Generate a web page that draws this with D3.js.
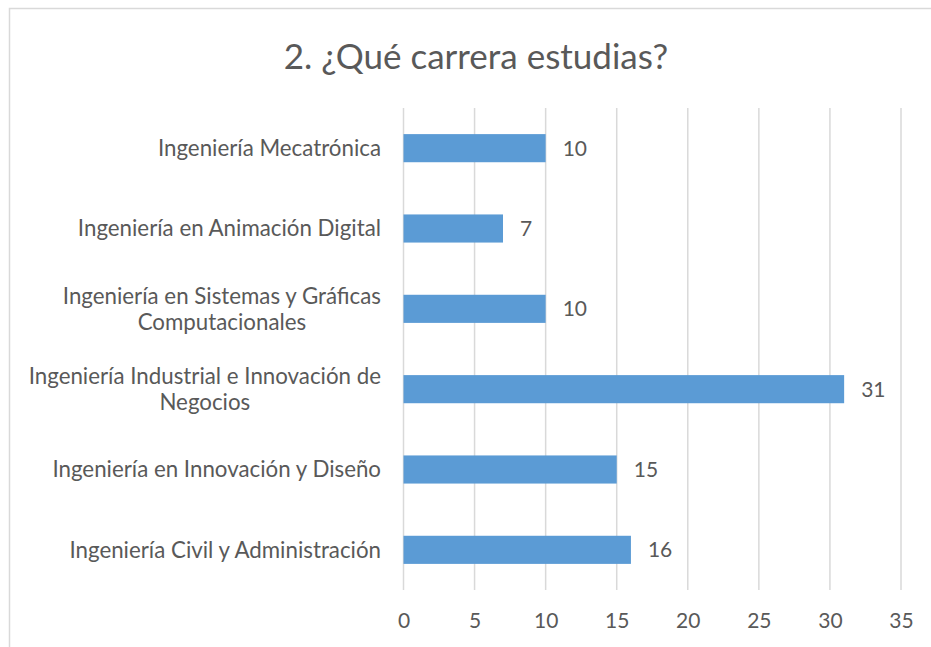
<!DOCTYPE html>
<html>
<head>
<meta charset="utf-8">
<script src="https://cdn.jsdelivr.net/npm/d3@7"></script>
<style>
  body { margin: 0; background: #fff; }
  svg { display: block; font-family: Lato, "Open Sans", sans-serif; }
</style>
</head>
<body>
<div id="chart"></div>
<script>
// chart data, bottom to top as in the picture
var categories = [
  "Ingeniería Civil y Administración",
  "Ingeniería en Innovación y Diseño",
  "Ingeniería Industrial e Innovación de\nNegocios",
  "Ingeniería en Sistemas y Gráficas\nComputacionales",
  "Ingeniería en Animación Digital",
  "Ingeniería Mecatrónica"
];
var values = [16, 15, 31, 10, 7, 10];
var tickValues = [0, 5, 10, 15, 20, 25, 30, 35];

var width = 931, height = 647;
var plot = { left: 403.5, right: 901, top: 108, bottom: 590 };
var textColor = "#595959";

var svg = d3.select("#chart").append("svg")
  .attr("width", width)
  .attr("height", height);

// outer chart frame (runs past the right and bottom edge)
svg.append("rect")
  .attr("x", 9.5).attr("y", 8.5)
  .attr("width", 960).attr("height", 700)
  .attr("fill", "none")
  .attr("stroke", "#d9d9d9")
  .attr("stroke-width", 1.5);

svg.append("text")
  .attr("x", 476).attr("y", 69)
  .attr("text-anchor", "middle")
  .attr("font-size", 35)
  .attr("fill", textColor)
  .text("2. ¿Qué carrera estudias?");

var x = d3.scaleLinear().domain([0, 35]).range([plot.left, plot.right]);
var y = d3.scaleBand()
  .domain(categories.slice().reverse())
  .range([plot.top, plot.bottom])
  .paddingInner(0.65)
  .paddingOuter(0.325);

// gridlines
svg.append("g")
  .selectAll("line")
  .data(tickValues)
  .join("line")
    .attr("x1", d => x(d)).attr("x2", d => x(d))
    .attr("y1", plot.top).attr("y2", plot.bottom)
    .attr("stroke", "#d9d9d9")
    .attr("stroke-width", 1.5);

// bars
svg.append("g")
  .selectAll("rect")
  .data(categories)
  .join("rect")
    .attr("x", x(0))
    .attr("y", d => y(d))
    .attr("width", (d, i) => x(values[i]) - x(0))
    .attr("height", y.bandwidth())
    .attr("fill", "#5b9bd5");

// value labels
svg.append("g")
  .selectAll("text")
  .data(categories)
  .join("text")
    .attr("x", (d, i) => x(values[i]) + 17)
    .attr("y", d => y(d) + y.bandwidth() / 2)
    .attr("dy", "0.35em")
    .attr("font-size", 21)
    .attr("fill", textColor)
    .text((d, i) => values[i]);

// x axis tick labels
var xAxis = svg.append("g")
  .attr("transform", `translate(0,${plot.bottom})`)
  .call(d3.axisBottom(x).tickValues(tickValues).tickSize(0).tickPadding(23));
xAxis.select(".domain").remove();
xAxis.selectAll("text")
  .attr("font-size", 21)
  .attr("font-family", "Lato, 'Open Sans', sans-serif")
  .attr("fill", textColor);

// category labels, lines centred on each other, block right aligned
var labelRight = 381, lineH = 26;
svg.append("g")
  .selectAll("g")
  .data(categories)
  .join("g")
  .each(function(d) {
    var g = d3.select(this);
    var lines = d.split("\n");
    var cy = y(d) + y.bandwidth() / 2;
    var texts = lines.map(function(l, i) {
      return g.append("text")
        .attr("y", cy + (i - (lines.length - 1) / 2) * lineH)
        .attr("dy", "0.35em")
        .attr("font-size", 22.3)
        .attr("fill", textColor)
        .attr("text-anchor", "middle")
        .text(l);
    });
    var maxW = d3.max(texts, t => t.node().getComputedTextLength());
    texts.forEach(t => t.attr("x", labelRight - maxW / 2));
  });
</script>
</body>
</html>
